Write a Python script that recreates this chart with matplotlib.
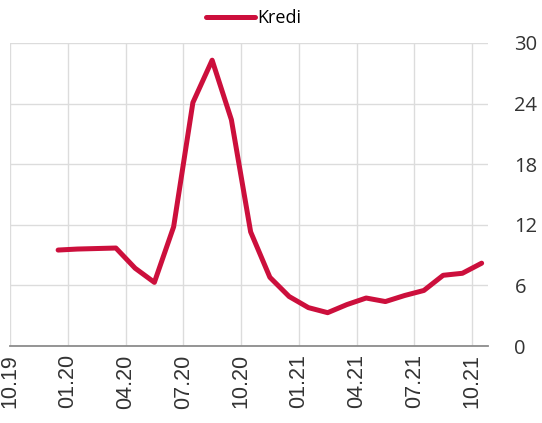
import numpy as np
import matplotlib.pyplot as plt
from matplotlib import transforms

# monthly credit growth, 12.19 .. 10.21
kredi = [9.5, 9.6, 9.65, 9.7, 7.7, 6.3, 11.8, 24.1, 28.3, 22.4, 11.3, 6.8,
         4.9, 3.8, 3.3, 4.1, 4.75, 4.4, 5.0, 5.5, 7.0, 7.2, 8.2]
first_month = 2          # months after 10.19
tick_labels = ['10.19', '01.20', '04.20', '07.20', '10.20',
               '01.21', '04.21', '07.21', '10.21']
y_ticks = [0, 6, 12, 18, 24, 30]

red = '#cc0f3c'
grid = '#dcdcdc'

fig = plt.figure(figsize=(5.42, 4.23), dpi=100)
ax = fig.add_axes([10/542, 77/423, 478/542, 303/423])

x = np.arange(len(kredi)) + first_month + 0.5
ax.plot(x, kredi, color=red, lw=3.6, solid_joinstyle='round',
        solid_capstyle='round', label='Kredi', zorder=3)

ax.set_xlim(0, 24.83)
ax.set_ylim(0, 30)

xt = np.arange(len(tick_labels)) * 3
ax.set_xticks(xt)
ax.set_xticklabels(tick_labels, rotation=90, family='Liberation Sans',
                   fontsize=15.5, color='#333333', va='top', ha='center')
off = transforms.ScaledTranslation(8/100, 0, fig.dpi_scale_trans)
for lab in ax.get_xticklabels():
    lab.set_transform(lab.get_transform() + off)

ax.set_yticks(y_ticks)
ax.yaxis.tick_right()
ax.set_yticklabels([str(v) for v in y_ticks], family='Open Sans',
                   fontsize=14.5, color='#333333')
ax.tick_params(axis='both', length=0)
ax.tick_params(axis='y', pad=19)
ax.tick_params(axis='x', pad=6)

ax.grid(True, color=grid, lw=1)
ax.set_axisbelow(True)
for s in ['top', 'right', 'left']:
    ax.spines[s].set_visible(False)
ax.spines['bottom'].set_color('#8c8c8c')
ax.spines['bottom'].set_linewidth(1.3)

fig.legend(loc='center', bbox_to_anchor=(254/542, 1 - 18/423), frameon=False,
           prop={'family': 'Open Sans', 'size': 13}, handlelength=2.7,
           handletextpad=0.15, borderaxespad=0)

fig.savefig('out.png', dpi=100, facecolor='white')
